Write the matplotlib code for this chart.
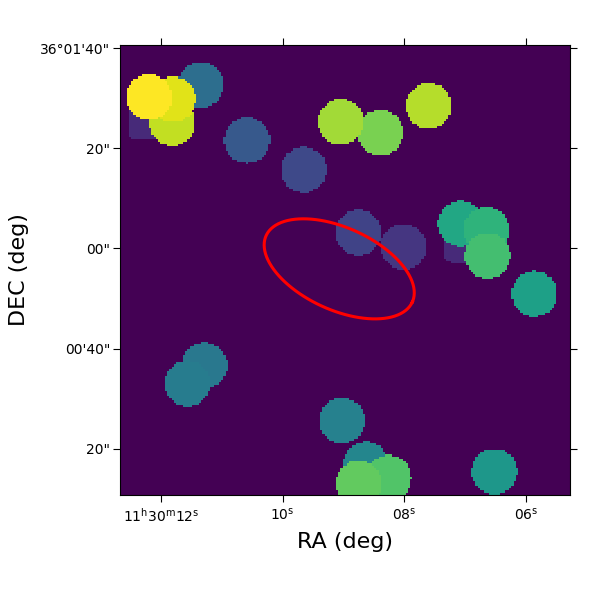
"""Sky map of compact sources with a red region ellipse, in RA/DEC."""

import matplotlib

matplotlib.use("Agg")
import matplotlib.pyplot as plt  # noqa: E402
import numpy as np  # noqa: E402

# source centres: RA seconds past 11h30m, DEC arcsec past 36d00m, map level
SRC_RA = [11.34, 11.81, 11.80, 12.19, 10.58, 9.65, 9.04, 8.39, 7.60, 8.75, 8.01,
          7.07, 6.65, 6.63, 5.86, 11.28, 11.56, 9.02, 8.63, 8.26, 8.75, 6.52]
SRC_DEC = [92.62, 85.04, 89.73, 90.23, 81.56, 75.67, 85.24, 83.05, 88.43, 63.11, 60.32,
           64.91, 63.71, 58.52, 50.95, 36.59, 33.00, 25.62, 16.85, 14.16, 13.06, 15.45]
SRC_LEVEL = [0.36, 0.91, 0.955, 1.00, 0.28, 0.22, 0.86, 0.80, 0.89, 0.20, 0.16,
             0.60, 0.65, 0.70, 0.57, 0.40, 0.42, 0.44, 0.46, 0.73, 0.76, 0.53]

# two faint boxy sources sitting under the circles
BOX_RA = [12.18, 7.00]
BOX_DEC = [86.0, 61.5]
BOX_LEVEL = [0.12, 0.12]

RA_TICKS = [12, 10, 8, 6]
RA_LABELS = [r"11$^{\mathrm{h}}$30$^{\mathrm{m}}$12$^{\mathrm{s}}$",
             r"10$^{\mathrm{s}}$", r"08$^{\mathrm{s}}$", r"06$^{\mathrm{s}}$"]
DEC_TICKS = [100, 80, 60, 40, 20]
DEC_LABELS = ["36°01'40\"", '20"', '00"', "00'40\"", '20"']

RA_LIM = (12.67, 5.28)
DEC_LIM = (10.8, 100.6)
ARCSEC_PER_S = 12.13  # 15" * cos(dec)
RADIUS = 4.55
BOX_HALF = 4.3
NPIX = 200

ELL_RA, ELL_DEC = 9.07, 55.93
ELL_A, ELL_B, ELL_TILT = 16.0, 8.2, 24.5


def build_map() -> np.ndarray:
    # cell centres, so the painted discs line up with the axes
    frac = (np.arange(NPIX) + 0.5) / NPIX
    ra = RA_LIM[0] + frac * (RA_LIM[1] - RA_LIM[0])
    dec = DEC_LIM[1] + frac * (DEC_LIM[0] - DEC_LIM[1])
    rr, dd = np.meshgrid(ra, dec)
    img = np.zeros((NPIX, NPIX))

    for r0, d0, lev in zip(BOX_RA, BOX_DEC, BOX_LEVEL):
        dx = (rr - r0) * ARCSEC_PER_S
        dy = dd - d0
        img[(dx / BOX_HALF) ** 6 + (dy / BOX_HALF) ** 6 <= 1] = lev

    # low levels first so the brighter sources end up on top
    for i in np.argsort(SRC_LEVEL):
        dx = (rr - SRC_RA[i]) * ARCSEC_PER_S
        dy = dd - SRC_DEC[i]
        img[dx ** 2 + dy ** 2 <= RADIUS ** 2] = SRC_LEVEL[i]
    return img


def ellipse_line() -> tuple[np.ndarray, np.ndarray]:
    t = np.linspace(0, 2 * np.pi, 200)
    tilt = np.radians(ELL_TILT)
    # +x is towards the right of the plot, so the long axis runs down to the right
    x = ELL_A * np.cos(t) * np.cos(tilt) - ELL_B * np.sin(t) * np.sin(tilt)
    y = -ELL_A * np.cos(t) * np.sin(tilt) - ELL_B * np.sin(t) * np.cos(tilt)
    return ELL_RA - x / ARCSEC_PER_S, ELL_DEC + y


def main() -> None:
    fig = plt.figure(figsize=(6, 6), dpi=100)
    ax = fig.add_axes([0.2, 0.175, 0.75, 0.75])
    ax.imshow(build_map(), cmap="viridis", vmin=0, vmax=1, interpolation="nearest",
              aspect="auto", extent=[RA_LIM[0], RA_LIM[1], DEC_LIM[0], DEC_LIM[1]])
    ex, ey = ellipse_line()
    ax.plot(ex, ey, color="red", lw=2.2)

    ax.set_xlim(*RA_LIM)
    ax.set_ylim(*DEC_LIM)
    ax.set_xticks(RA_TICKS)
    ax.set_xticklabels(RA_LABELS)
    ax.set_yticks(DEC_TICKS)
    ax.set_yticklabels(DEC_LABELS)
    ax.tick_params(top=True, right=True, direction="out", length=5, labelsize=10)
    ax.tick_params(axis="y", pad=2)
    ax.set_xlabel("RA (deg)", fontsize=16, labelpad=5)
    ax.set_ylabel("DEC (deg)", fontsize=16, labelpad=8)

    fig.savefig("out.png", dpi=100)
    plt.close(fig)


if __name__ == "__main__":
    main()
